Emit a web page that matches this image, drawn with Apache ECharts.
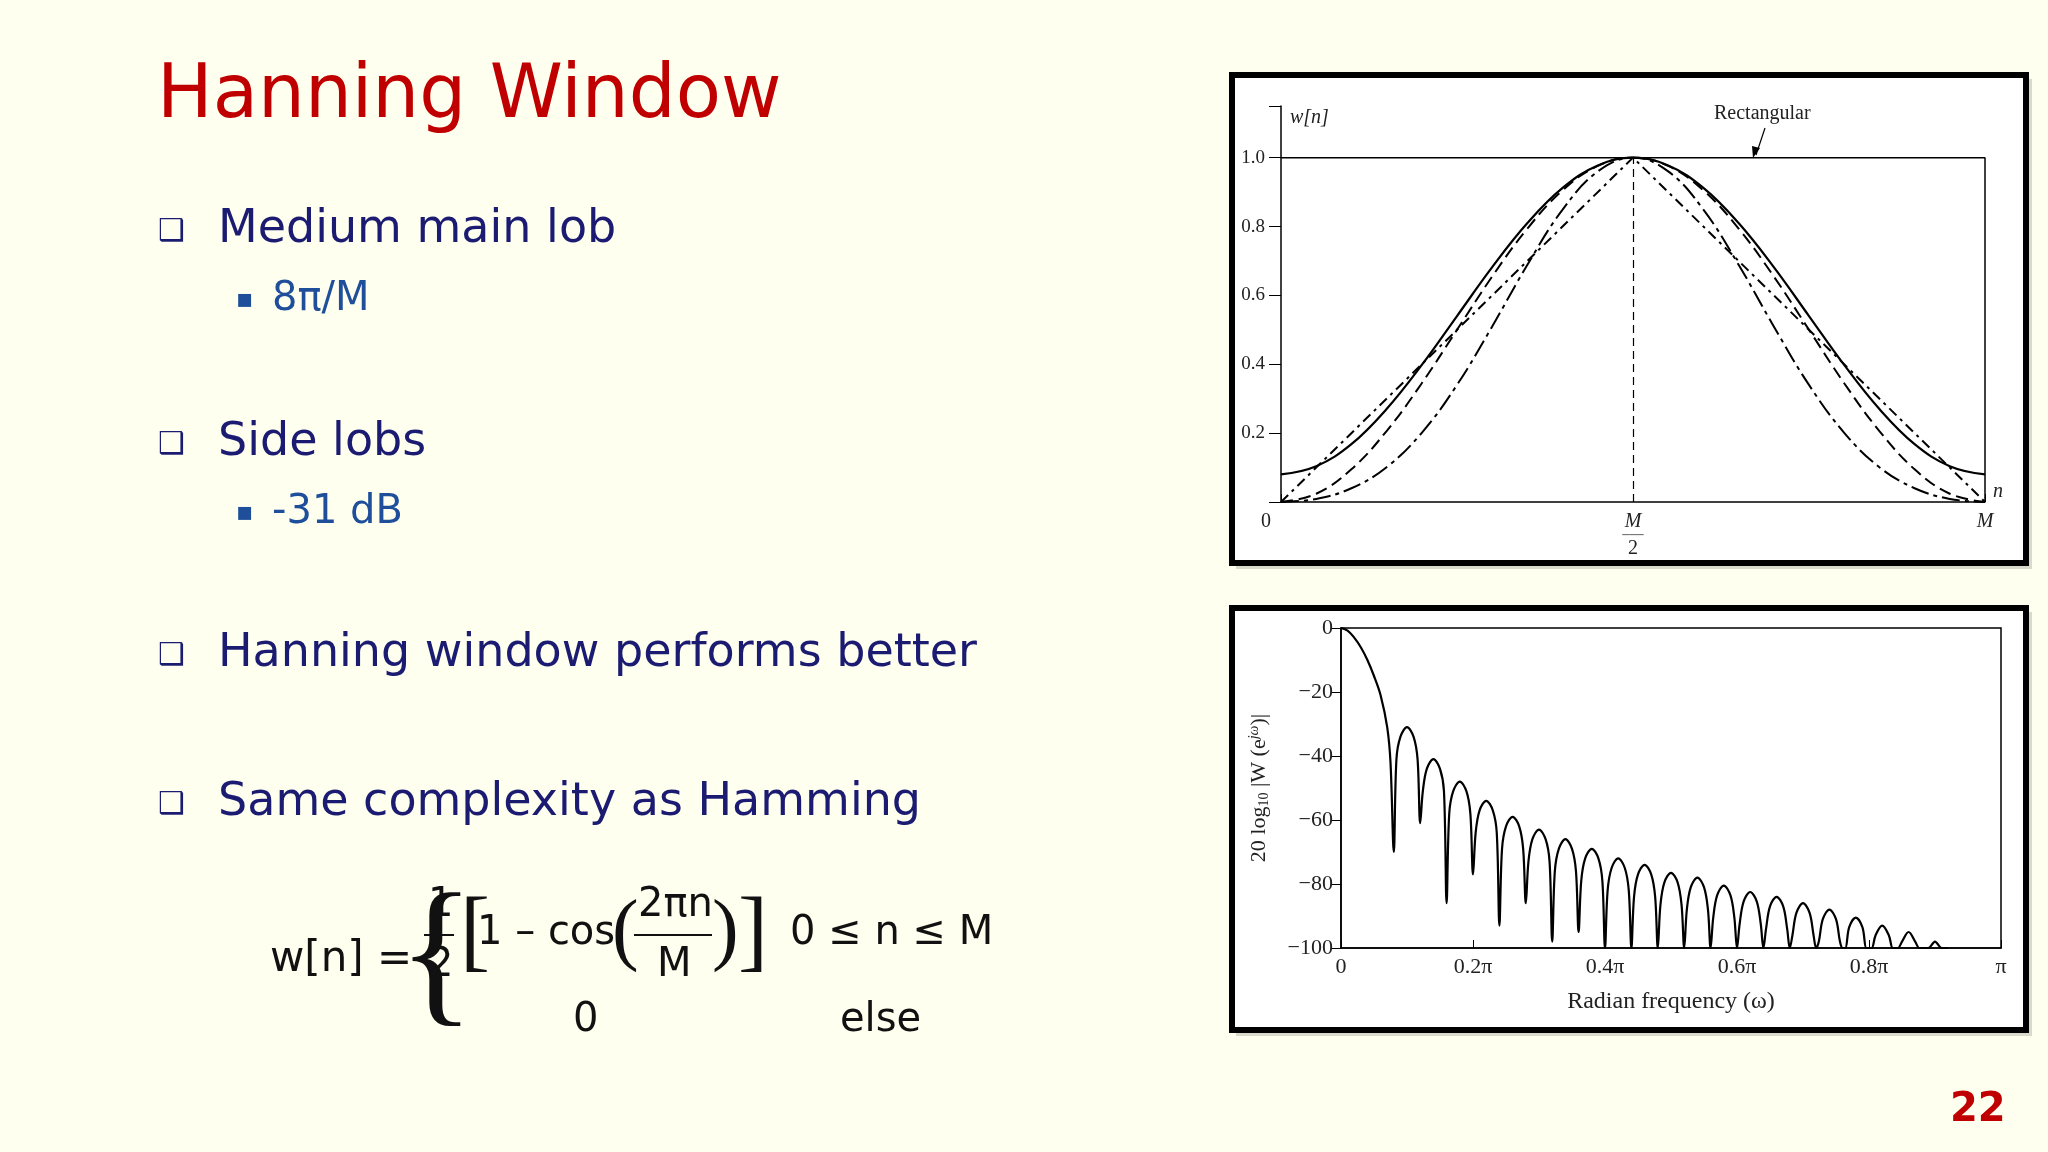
<!DOCTYPE html>
<html><head><meta charset="utf-8">
<script src="https://cdn.jsdelivr.net/npm/echarts@6/dist/echarts.min.js"></script>
<style>html,body{margin:0;padding:0;background:#fffff0}#c{width:2048px;height:1152px}</style>
</head><body><div id="c"></div>
<script>
// ---- top chart data (n/M, w[n]) ----
const nPos = [0,0.05,0.1,0.15,0.2,0.25,0.3,0.35,0.4,0.45,0.5,0.55,0.6,0.65,0.7,0.75,0.8,0.85,0.9,0.95,1];
const hamming = [0.08,0.104,0.168,0.27,0.398,0.54,0.682,0.81,0.912,0.977,1,0.977,0.912,0.81,0.682,0.54,0.398,0.27,0.168,0.104,0.08];
const hanning = [0,0.024,0.095,0.206,0.345,0.5,0.655,0.794,0.905,0.976,1,0.976,0.905,0.794,0.655,0.5,0.345,0.206,0.095,0.024,0];
const blackman = [0,0.009,0.04,0.101,0.201,0.34,0.51,0.689,0.849,0.96,1,0.96,0.849,0.689,0.51,0.34,0.201,0.101,0.04,0.009,0];
const bartlettX = [0,0.5,1], bartlett = [0,1,0];
const rectX = [0,1,1], rect = [1,1,0];
const topYTicks = ['0.2','0.4','0.6','0.8','1.0'];
// ---- bottom chart data (omega/pi, dB) ----
const mainLobeX = [0,0.01,0.02,0.03,0.04,0.05,0.06,0.07,0.075,0.08];
const mainLobeDb = [0,-0.8,-3,-6,-10,-15,-21,-31,-42,-70];
const nullX = [0.08,0.12,0.16,0.2,0.24,0.28,0.32,0.36,0.4,0.44,0.48,0.52,0.56,0.6,0.64,0.68,0.72,0.76,0.8,0.84,0.88,0.92];
const nullDb = [-70,-61,-86,-77,-93,-86,-98,-95,-100,-100,-100,-100,-100,-100,-100,-100,-100,-100,-100,-100,-100,-100];
const peakDb = [-31,-41,-48,-54,-59,-63,-66,-69,-72,-74,-76.5,-78,-80.5,-82.5,-84,-86,-88,-90.5,-93,-95,-98];
const lobeShape = [[0.004,-10],[0.01,-3],[0.02,0],[0.03,-3],[0.036,-10]]; // read lobe profile
const botXTicks = ['0','0.2π','0.4π','0.6π','0.8π','π'];

const zip = (xs, ys) => xs.map((x,i)=>[x,ys[i]]);
const spec = zip(mainLobeX, mainLobeDb);
for (let i=0;i<peakDb.length;i++){
  lobeShape.forEach(([dx,dy])=>spec.push([nullX[i]+dx, Math.max(-100, peakDb[i]+dy)]));
  spec.push([nullX[i+1], nullDb[i+1]]);
}

const serif = 'Liberation Serif';
const sans = 'DejaVu Sans';
const navy = '#1b1b72', sub = '#1f4f9a';

const txt = (x,y,t,size,color,extra) => Object.assign({type:'text',x,y,style:Object.assign({text:t,fontSize:size,fill:color,fontFamily:sans,textVerticalAlign:'middle'},extra||{})});

const chart = echarts.init(document.getElementById('c'));
chart.setOption({
  backgroundColor:'#fffff0',
  animation:false,
  grid:[
    {left:1281,top:106,width:704,height:396},
    {left:1341,top:628,width:660,height:320,show:true,borderColor:'#000',borderWidth:1.5}
  ],
  xAxis:[
    {gridIndex:0,type:'value',min:0,max:1,interval:0.5,splitLine:{show:false},
     axisLine:{onZero:false,lineStyle:{color:'#000',width:1.5}},axisTick:{inside:true,length:8,lineStyle:{color:'#000'}},
     axisLabel:{color:'#222',fontFamily:serif,fontSize:20,margin:10,
       formatter:v=>v===0?'{z|0}':(v===0.5?'{a|M}\n{l|───}\n{b|2}':'{a|M}'),
       rich:{z:{fontSize:20,fontFamily:serif,color:'#222',padding:[0,30,0,0]},a:{fontStyle:'italic',fontSize:20,fontFamily:serif,color:'#222',lineHeight:20},l:{fontSize:10,lineHeight:6,color:'#222'},b:{fontSize:20,fontFamily:serif,color:'#222',lineHeight:22}}},
     name:'n',nameGap:8,nameTextStyle:{fontFamily:serif,fontStyle:'italic',fontSize:20,color:'#222',verticalAlign:'bottom'}},
    {gridIndex:1,type:'value',min:0,max:1,interval:0.2,splitLine:{show:false},
     axisLine:{onZero:false,lineStyle:{color:'#000',width:1.5}},axisTick:{inside:true,length:8,lineStyle:{color:'#000'}},
     axisLabel:{color:'#222',fontFamily:serif,fontSize:22,margin:8,formatter:(v)=>botXTicks[Math.round(v*5)]},
     name:'Radian frequency (ω)',nameLocation:'middle',nameGap:42,nameTextStyle:{fontFamily:serif,fontSize:24,color:'#222'}}
  ],
  yAxis:[
    {gridIndex:0,type:'value',min:0,max:1.15,interval:0.2,splitLine:{show:false},
     axisLine:{show:true,lineStyle:{color:'#000',width:1.5}},axisTick:{show:true,length:12,lineStyle:{color:'#000'}},
     axisLabel:{color:'#222',fontFamily:serif,fontSize:19,margin:16,
       formatter:v=>{const i=Math.round(v*5)-1;return (i>=0&&i<topYTicks.length)?topYTicks[i]:'';}}},
    {gridIndex:1,type:'value',min:-100,max:0,interval:20,splitLine:{show:false},
     axisLine:{show:true,lineStyle:{color:'#000',width:1.5}},axisTick:{show:true,length:10,lineStyle:{color:'#000'}},
     axisLabel:{color:'#222',fontFamily:serif,fontSize:22,margin:8,formatter:v=>v<0?'−'+(-v):'0'},
     name:'{n|20 log}{s|10}{n| |W (e}{p|jω}{n|)|}',nameLocation:'middle',nameGap:70,nameRotate:90,
     nameTextStyle:{rich:{n:{fontFamily:serif,fontSize:22,color:'#222'},s:{fontFamily:serif,fontSize:14,color:'#222',padding:[10,0,0,0]},p:{fontFamily:serif,fontStyle:'italic',fontSize:14,color:'#222',padding:[0,0,10,0]}}}}
  ],
  legend:{left:1787,top:170,orient:'vertical',itemWidth:80,itemHeight:14,itemGap:4,
    data:['Hamming','Hanning','Blackman','Bartlett'],
    textStyle:{fontFamily:serif,fontSize:20,color:'#222'},icon:'path://M0,0L1,0'},
  series:[
    {name:'Rectangular',type:'line',xAxisIndex:0,yAxisIndex:0,data:zip(rectX,rect),symbol:'none',lineStyle:{color:'#000',width:1.5}},
    {name:'Hamming',type:'line',xAxisIndex:0,yAxisIndex:0,data:zip(nPos,hamming),smooth:0.4,symbol:'none',lineStyle:{color:'#000',width:2.2},itemStyle:{color:'#000'}},
    {name:'Hanning',type:'line',xAxisIndex:0,yAxisIndex:0,data:zip(nPos,hanning),smooth:0.4,symbol:'none',lineStyle:{color:'#000',width:2,type:[12,6]},itemStyle:{color:'#000'}},
    {name:'Blackman',type:'line',xAxisIndex:0,yAxisIndex:0,data:zip(nPos,blackman),smooth:0.4,symbol:'none',lineStyle:{color:'#000',width:2,type:[18,5,4,5]},itemStyle:{color:'#000'}},
    {name:'Bartlett',type:'line',xAxisIndex:0,yAxisIndex:0,data:zip(bartlettX,bartlett),symbol:'none',lineStyle:{color:'#000',width:2,type:[10,5,3,5]},itemStyle:{color:'#000'},
     markLine:{symbol:'none',silent:true,label:{show:false},lineStyle:{color:'#000',width:1.2,type:[8,5]},data:[[{coord:[0.5,0]},{coord:[0.5,1]}]]}},
    {name:'spec',type:'line',xAxisIndex:1,yAxisIndex:1,data:spec,smooth:0.35,symbol:'none',clip:true,lineStyle:{color:'#000',width:2.2}}
  ],
  graphic:[
    {type:'rect',z:-10,shape:{x:1236,y:79,width:796,height:490},style:{fill:'rgba(0,0,0,0.15)'}},
    {type:'rect',z:-9,shape:{x:1232,y:75,width:794,height:488},style:{fill:'#fff',stroke:'#000',lineWidth:6}},
    {type:'rect',z:-10,shape:{x:1236,y:612,width:796,height:424},style:{fill:'rgba(0,0,0,0.15)'}},
    {type:'rect',z:-9,shape:{x:1232,y:608,width:794,height:422},style:{fill:'#fff',stroke:'#000',lineWidth:6}},
    txt(1290,118,'w[n]',20,'#222',{fontFamily:serif,fontStyle:'italic'}),
    txt(1714,114,'Rectangular',20,'#222',{fontFamily:serif}),
    {type:'line',shape:{x1:1765,y1:128,x2:1756,y2:155},style:{stroke:'#000',lineWidth:1.2}},
    {type:'polygon',shape:{points:[[1753,158],[1752,146],[1760,148]]},style:{fill:'#000'}},
    txt(157,98,'Hanning Window',74,'#c00000',{fontFamily:sans}),
    txt(158,232,'❑',30,navy),txt(218,230,'Medium main lob',46,navy),
    txt(236,300,'▪',26,sub),txt(272,300,'8π/M',40,sub),
    txt(158,445,'❑',30,navy),txt(218,443,'Side lobs',46,navy),
    txt(236,513,'▪',26,sub),txt(272,513,'-31 dB',40,sub),
    txt(158,656,'❑',30,navy),txt(218,654,'Hanning window performs better',46,navy),
    txt(158,805,'❑',30,navy),txt(218,803,'Same complexity as Hamming',46,navy),
    txt(270,960,'w[n] =',42,'#111'),
    txt(398,962,'{',160,'#111',{fontFamily:serif}),
    txt(428,906,'1',40,'#111'),{type:'line',shape:{x1:424,y1:935,x2:454,y2:935},style:{stroke:'#111',lineWidth:2}},txt(428,966,'2',40,'#111'),
    txt(460,936,'[',90,'#111',{fontFamily:serif}),
    txt(477,934,'1 – cos',40,'#111'),
    txt(612,934,'(',80,'#111',{fontFamily:serif}),
    txt(638,906,'2πn',40,'#111'),{type:'line',shape:{x1:634,y1:935,x2:712,y2:935},style:{stroke:'#111',lineWidth:2}},txt(657,966,'M',40,'#111'),
    txt(712,934,')',80,'#111',{fontFamily:serif}),
    txt(738,936,']',90,'#111',{fontFamily:serif}),
    txt(790,934,'0 ≤ n ≤ M',40,'#111'),
    txt(573,1021,'0',40,'#111'),txt(840,1021,'else',40,'#111'),
    txt(1950,1111,'22',40,'#c00000',{fontWeight:'bold'})
  ]
});
</script></body></html>
